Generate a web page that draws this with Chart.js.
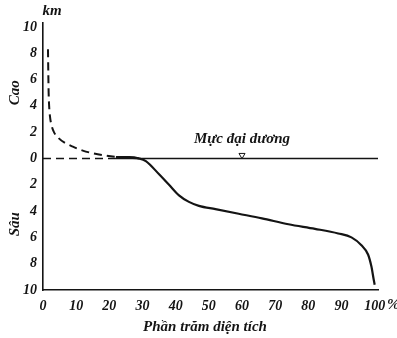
<!DOCTYPE html>
<html><head><meta charset="utf-8">
<script src="https://cdn.jsdelivr.net/npm/chart.js@4/dist/chart.umd.min.js"></script>
<style>html,body{margin:0;padding:0;background:#fff}#wrap{width:397px;height:338px}</style>
</head><body><div id="wrap"><canvas id="c" width="397" height="338"></canvas></div>
<script>
const xTicks = [0,10,20,30,40,50,60,70,80,90,100];
const yTicks = [-10,-8,-6,-4,-2,0,2,4,6,8,10];
const landX = [1.5,1.6,1.7,1.85,2.1,2.6,3.3,4.5,6.5,9,12,15,19,23,27,29];
const landY = [8.3,6.5,5,4,3.2,2.5,2.0,1.6,1.2,0.9,0.6,0.4,0.22,0.1,0.03,0];
const oceanX = [22,26,29,31,35,38,41,44,47,52,59,66,74,82,89,93,96,98,99,99.7,100];
const oceanY = [0.1,0.1,0.0,-0.2,-1.2,-2.0,-2.8,-3.3,-3.6,-3.85,-4.2,-4.55,-5.0,-5.35,-5.7,-6.0,-6.6,-7.3,-8.2,-9.2,-9.6];
const seaDashedX = [0,22];
const seaSolidX = [22,101];
const markerX = [60];
const seaLabel = "Mực đại dương";
const xTitle = "Phần trăm diện tích";
const upTitle = "Cao", downTitle = "Sâu", unit = "km";

const pts = (xs, ys) => xs.map((x,i)=>({x, y: ys[i]}));
const FAM = '"Liberation Serif", "DejaVu Serif", serif';
const FONT = 'bold italic 15px ' + FAM;
const ink = '#141414';

const textPlugin = {
  id:'texts',
  afterDraw(chart){
    const {ctx, scales:{x,y}} = chart;
    ctx.save();
    ctx.fillStyle = ink;
    ctx.font = FONT;
    ctx.textAlign='center'; ctx.textBaseline='middle';
    ctx.fillText(seaLabel, x.getPixelForValue(60), y.getPixelForValue(1.45));
    ctx.fillText(unit, 52, 11);
    ctx.fillText(xTitle, 205, 327);
    ctx.textAlign='left';
    ctx.fillText('%', 387, 305);
    ctx.textAlign='center';
    ctx.save(); ctx.translate(15, y.getPixelForValue(5)); ctx.rotate(-Math.PI/2); ctx.fillText(upTitle,0,0); ctx.restore();
    ctx.save(); ctx.translate(15, y.getPixelForValue(-5)); ctx.rotate(-Math.PI/2); ctx.fillText(downTitle,0,0); ctx.restore();
    ctx.restore();
  }
};

const tickFont = {family:FAM, size:14, style:'italic', weight:'bold'};

new Chart(document.getElementById('c'), {
  type:'scatter',
  data:{datasets:[
    {data: pts(seaDashedX,[0,0]), showLine:true, borderColor:ink, borderWidth:1.6, borderDash:[8,5], pointRadius:0},
    {data: pts(seaSolidX,[0,0]), showLine:true, borderColor:ink, borderWidth:1.4, pointRadius:0},
    {data: pts(landX,landY), showLine:true, borderColor:ink, borderWidth:2, borderDash:[8,5], pointRadius:0, cubicInterpolationMode:'monotone'},
    {data: pts(oceanX,oceanY), showLine:true, borderColor:ink, borderWidth:2.2, pointRadius:0, cubicInterpolationMode:'monotone'},
    {data: pts(markerX,[0.25]), showLine:false, pointStyle:'triangle', rotation:180, pointRadius:3.5, borderWidth:1, borderColor:ink, backgroundColor:'#fff'}
  ]},
  options:{
    responsive:false, animation:false, devicePixelRatio:1,
    layout:{padding:{left:0,right:19,top:23,bottom:0}},
    plugins:{legend:{display:false}, tooltip:{enabled:false}},
    scales:{
      x:{type:'linear', min:0, max:101,
        afterBuildTicks(s){ s.ticks = xTicks.map(v=>({value:v})); },
        afterFit(s){ s.height = 48; },
        grid:{display:false, drawTicks:false},
        border:{display:true, color:ink, width:1.6},
        ticks:{color:ink, font:tickFont, padding:8, maxRotation:0, autoSkip:false}
      },
      y:{type:'linear', min:-10, max:10.3,
        afterBuildTicks(s){ s.ticks = yTicks.map(v=>({value:v})); },
        afterFit(s){ s.width = 43; },
        grid:{display:false, drawTicks:false},
        border:{display:true, color:ink, width:1.6},
        ticks:{color:ink, font:tickFont, padding:6, autoSkip:false, callback:v=>String(Math.abs(v))}
      }
    }
  },
  plugins:[textPlugin]
});
</script></body></html>
